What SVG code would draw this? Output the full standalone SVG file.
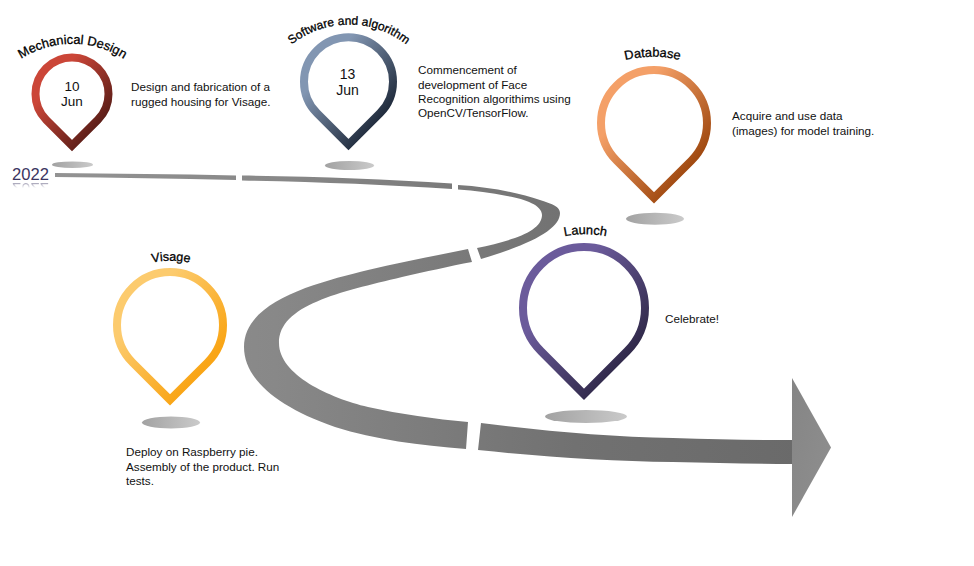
<svg xmlns="http://www.w3.org/2000/svg" width="974" height="566" viewBox="0 0 974 566">
<style>
.pin{fill:none;stroke-width:8;stroke-miterlimit:10}
.shadow{fill:url(#gShadow)}
.desc{font-family:"Liberation Sans",Arial,sans-serif;font-size:11.7px;fill:#111}
.date{font-family:"Liberation Sans",Arial,sans-serif;font-size:14px;fill:#111;text-anchor:middle}
.arc{font-family:"Liberation Sans",Arial,sans-serif;font-size:12.8px;fill:#000;stroke:#000;stroke-width:.3;text-anchor:middle}
.year{font-family:"Liberation Sans",Arial,sans-serif;font-size:16.6px;fill:#3b3561}
</style>
<defs>
<linearGradient id="gRoad" gradientUnits="userSpaceOnUse" x1="50" y1="0" x2="800" y2="0"><stop offset="0" stop-color="#939393"/><stop offset=".3" stop-color="#888"/><stop offset=".7" stop-color="#717171"/><stop offset="1" stop-color="#6a6a6a"/></linearGradient>
<linearGradient id="gHead" x1="0" y1="0" x2="1" y2="1"><stop offset="0" stop-color="#858585"/><stop offset="1" stop-color="#8f8f8f"/></linearGradient>
<linearGradient id="gShadow"><stop offset="0" stop-color="#a2a2a2"/><stop offset="1" stop-color="#cacaca"/></linearGradient>
<linearGradient id="gRed" x1=".1" y1=".1" x2=".9" y2=".9"><stop offset=".2" stop-color="#cb4638"/><stop offset=".9" stop-color="#5c1e18"/></linearGradient>
<linearGradient id="gBlue" x1=".1" y1=".1" x2=".9" y2=".9"><stop offset=".2" stop-color="#8296b2"/><stop offset=".9" stop-color="#1f2a3b"/></linearGradient>
<linearGradient id="gOrange" x1=".1" y1=".1" x2=".9" y2=".9"><stop offset=".2" stop-color="#f4a068"/><stop offset=".9" stop-color="#9e470e"/></linearGradient>
<linearGradient id="gPurple" x1=".1" y1=".1" x2=".9" y2=".9"><stop offset=".25" stop-color="#6b5b9b"/><stop offset=".9" stop-color="#2f2848"/></linearGradient>
<linearGradient id="gYellow" x1=".1" y1=".1" x2=".9" y2=".9"><stop offset=".2" stop-color="#fccb6e"/><stop offset=".85" stop-color="#f9a516"/></linearGradient>
<linearGradient id="gFade" x1="0" y1="0" x2="0" y2="1"><stop offset="0" stop-color="#fff" stop-opacity=".55"/><stop offset="1" stop-color="#fff" stop-opacity="0"/></linearGradient>
<mask id="mFade" maskUnits="userSpaceOnUse" x="0" y="181" width="60" height="8"><rect x="0" y="182" width="60" height="6" fill="url(#gFade)"/></mask>
<path id="a1" d="M18 61A95 95 0 0 1 127 61"/>
<path id="a2" d="M290 46A92 92 0 0 1 408 46"/>
<path id="a3" d="M622 61A110 110 0 0 1 683 61"/>
<path id="a4" d="M562 237A100 100 0 0 1 609 237"/>
<path id="a5" d="M150 263A100 100 0 0 1 192 263"/>
</defs>

<g id="connectors">
<path fill="url(#gRoad)" d="M55 173 C115 173.500 175 174 236 175.500 L236 180 C175 178.500 115 177.500 55 177Z"/>
<path fill="url(#gRoad)" d="M242 175.500 C315 176.500 385 179 452 183.500 L452 189 C385 184.500 315 182 242 180.500Z"/>
<path fill="url(#gRoad)" d="M458 185 C490 187 520 193 540 200 C553 204 560 207 560 213 C560 228 535 243 481 259 L477 248 C510 241 542 232 542 215 C542 205 525 199 507 196 C491 193 475 190.500 458 189.500Z"/>
<path fill="url(#gRoad)" d="M468 249 C435 256 400 262 368 270 C320 282 244 300 244 347 C244 378 275 406 335 427 C375 440 420 445 466 449 L468 422 C435 419 400 414 368 407 C330 398 279 375 279 343 C279 305 340 292 402 277 C425 272 450 266 472 262Z"/>
<path fill="url(#gRoad)" d="M481 423 C545 431 610 437 673 438 C715 439.500 755 440 792 440 L792 464 C755 464 715 463 673 462 C610 461 545 457 478 450Z"/>
<path fill="url(#gHead)" d="M792 378L831 447.500L792 517Z"/>
</g>

<g id="year">
<text id="yearText" class="year" x="12" y="180">2022</text>
<g mask="url(#mFade)"><use href="#yearText" transform="matrix(1 0 0 -1 0 362.500)"/></g>
</g>

<g id="node-mechanical">
<ellipse class="shadow" cx="72.500" cy="164.700" rx="20.500" ry="3.300"/>
<path class="pin" style="stroke:url(#gRed)" d="M72 145.600L46.200 119.800A36.500 36.500 0 1 1 97.800 119.800Z"/>
<text class="arc"><textPath href="#a1" startOffset="50%">Mechanical Design</textPath></text>
<text class="date" x="72" y="91" style="font-size:13.500px">10</text>
<text class="date" x="72" y="106" style="font-size:13.500px">Jun</text>
<text class="desc" x="131" y="91">Design and fabrication of a</text>
<text class="desc" x="131" y="106">rugged housing for Visage.</text>
</g>

<g id="node-software">
<ellipse class="shadow" cx="349.500" cy="165.500" rx="24.500" ry="4.500"/>
<path class="pin" style="stroke:url(#gBlue)" d="M348.500 144.700L317 113.200A44.500 44.500 0 1 1 380 113.200Z"/>
<text class="arc" style="font-size:12px"><textPath href="#a2" startOffset="50%">Software and algorithm</textPath></text>
<text class="date" x="347.500" y="79">13</text>
<text class="date" x="347.500" y="95">Jun</text>
<text class="desc" x="418" y="74">Commencement of</text>
<text class="desc" x="418" y="88.500">development of Face</text>
<text class="desc" x="418" y="103">Recognition algorithims using</text>
<text class="desc" x="418" y="117">OpenCV/TensorFlow.</text>
</g>

<g id="node-database">
<ellipse class="shadow" cx="655" cy="218.700" rx="29" ry="6"/>
<path class="pin" style="stroke:url(#gOrange)" d="M654 197.900L616.500 160.500A53 53 0 1 1 691.500 160.500Z"/>
<text class="arc"><textPath href="#a3" startOffset="50%">Database</textPath></text>
<text class="desc" x="732" y="120">Acquire and use data</text>
<text class="desc" x="732" y="135">(images) for model training.</text>
</g>

<g id="node-launch">
<ellipse class="shadow" cx="586" cy="416.500" rx="41" ry="6.500"/>
<path class="pin" style="stroke:url(#gPurple)" d="M584 394.300L540.900 351.100A61 61 0 1 1 627.100 351.100Z"/>
<text class="arc"><textPath href="#a4" startOffset="50%">Launch</textPath></text>
<text class="desc" x="665" y="323">Celebrate!</text>
</g>

<g id="node-visage">
<ellipse class="shadow" cx="171" cy="422.500" rx="29" ry="6"/>
<path class="pin" style="stroke:url(#gYellow)" d="M170 399.900L132.500 362.500A53 53 0 1 1 207.500 362.500Z"/>
<text class="arc" style="font-size:12.500px"><textPath href="#a5" startOffset="50%">Visage</textPath></text>
<text class="desc" x="126" y="456">Deploy on Raspberry pie.</text>
<text class="desc" x="126" y="471">Assembly of the product. Run</text>
<text class="desc" x="126" y="485">tests.</text>
</g>
</svg>
